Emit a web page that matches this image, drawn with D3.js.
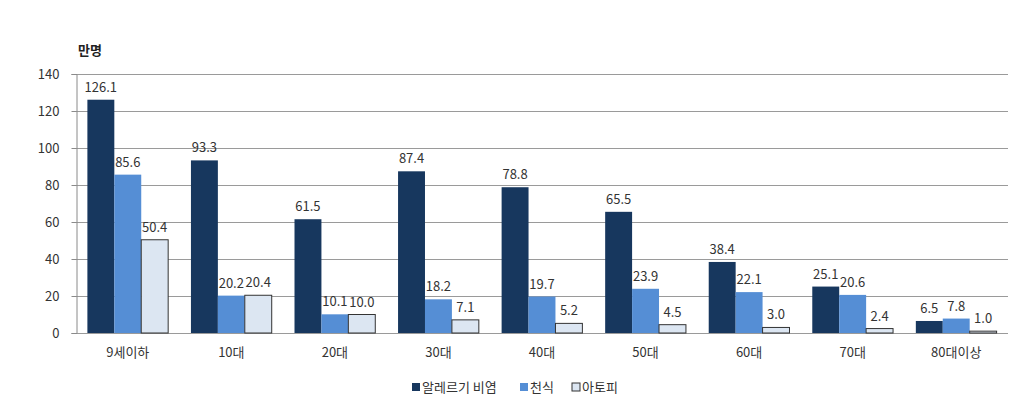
<!DOCTYPE html>
<html><head><meta charset="utf-8">
<script src="https://cdn.jsdelivr.net/npm/d3@7"></script>
<style>body{margin:0;background:#fff;} text{font-family:"Noto Sans CJK KR","Noto Sans",sans-serif;}</style>
</head><body>
<svg id="c" width="1024" height="404"></svg>
<script>
const categories = ["9세이하","10대","20대","30대","40대","50대","60대","70대","80대이상"];
const seriesNames = ["알레르기 비염","천식","아토피"];
const allergy = [126.1,93.3,61.5,87.4,78.8,65.5,38.4,25.1,6.5];
const asthma  = [85.6,20.2,10.1,18.2,19.7,23.9,22.1,20.6,7.8];
const atopy   = [50.4,20.4,10.0,7.1,5.2,4.5,3.0,2.4,1.0];
const yTicks = [0,20,40,60,80,100,120,140];
const colors = ["#17375e","#558ed5","#dce6f2"];
const series = [allergy, asthma, atopy];

const svg = d3.select("#c");
const L=76, R=1008, T=74, B=333;
const x = d3.scaleBand().domain(categories).range([L,R]).paddingInner(0.22).paddingOuter(0.11);
const xs = d3.scaleBand().domain([0,1,2]).range([0,x.bandwidth()]);
const y = d3.scaleLinear().domain([0,140]).range([B,T]);

// gridlines
svg.append("g").selectAll("line").data(yTicks).join("line")
  .attr("x1",L).attr("x2",R).attr("y1",d=>Math.round(y(d))+0.5).attr("y2",d=>Math.round(y(d))+0.5)
  .attr("stroke","#9a9a9a").attr("stroke-width",1);

// y axis
const ya = svg.append("g").attr("transform",`translate(${L+0.5},0)`)
  .call(d3.axisLeft(y).tickValues(yTicks).tickSize(5).tickPadding(12));
ya.select(".domain").attr("stroke","#8a8a8a");
ya.selectAll(".tick line").attr("stroke","#8a8a8a");
ya.selectAll("text").attr("font-size",13).attr("fill","#333");

// bars
const g = svg.append("g");
series.forEach((s,si)=>{
  g.selectAll(".b"+si).data(s).join("rect")
    .attr("x",(d,i)=>x(categories[i])+xs(si))
    .attr("y",d=>y(d)).attr("width",xs.bandwidth()).attr("height",d=>y(0)-y(d))
    .attr("fill",colors[si])
    .attr("stroke", si===2 ? "#333" : "none").attr("stroke-width",1);
  g.selectAll(".l"+si).data(s).join("text")
    .attr("x",(d,i)=>x(categories[i])+xs(si)+xs.bandwidth()/2)
    .attr("y",d=>y(d)-8)
    .attr("text-anchor","middle").attr("font-size",13).attr("fill","#333")
    .text(d=>d.toFixed(1));
});

// x axis labels
svg.append("g").selectAll("text").data(categories).join("text")
  .attr("x",d=>x(d)+x.bandwidth()/2).attr("y",357)
  .attr("text-anchor","middle").attr("font-size",13).attr("fill","#333").text(d=>d);

// unit
svg.append("text").attr("x",78).attr("y",55).attr("font-size",13).attr("font-weight","bold").attr("fill","#222").text("만명");

// legend
const leg = svg.append("g");
const lx=[412,520,572];
seriesNames.forEach((n,i)=>{
  leg.append("rect").attr("x",lx[i]).attr("y",383).attr("width",8).attr("height",8)
    .attr("fill",colors[i]).attr("stroke", i===2?"#333":"none");
  leg.append("text").attr("x",lx[i]+10).attr("y",392).attr("font-size",13).attr("fill","#333").text(n);
});
</script>
</body></html>
